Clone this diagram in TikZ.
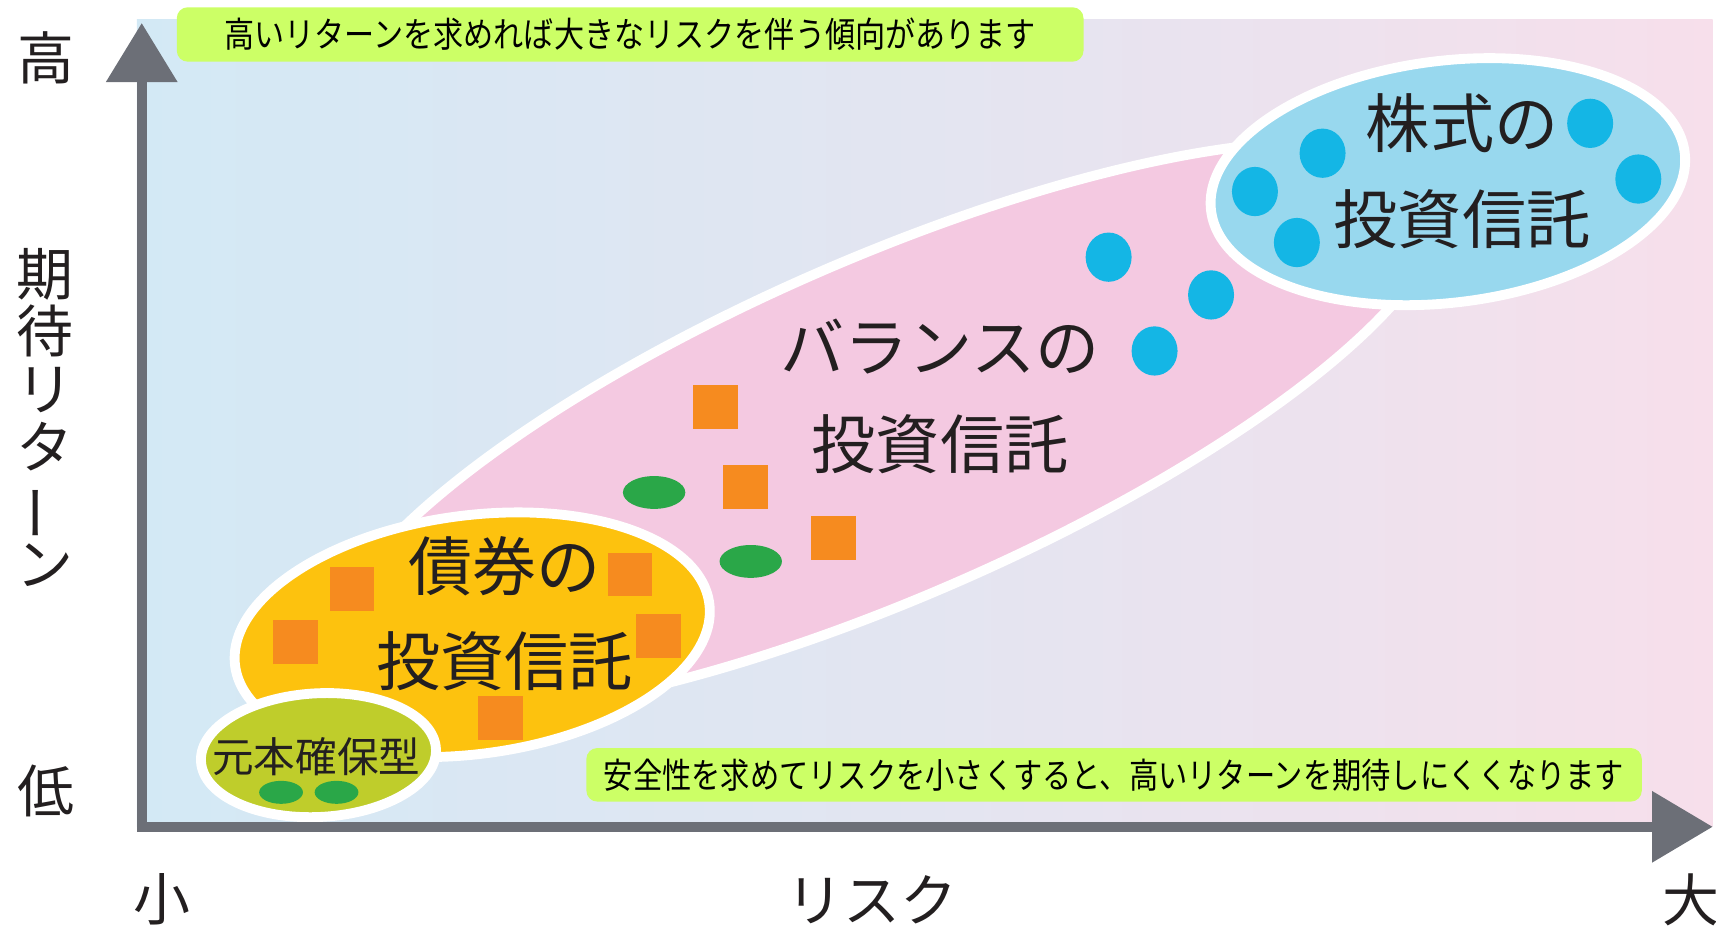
\documentclass[tikz,border=0pt]{standalone}
\usepackage{fontspec}
\setmainfont{Noto Sans CJK JP}
\newfontfamily\jpc[FakeStretch=0.86]{Noto Sans CJK JP}
\newfontfamily\jpd[FakeStretch=0.835]{Noto Sans CJK JP}
\usetikzlibrary{arrows.meta}
\definecolor{bgL}{HTML}{D3E9F5}
\definecolor{bgM}{HTML}{E3E5F1}
\definecolor{bgR}{HTML}{F7DFEB}
\definecolor{pinkF}{HTML}{F4C9E1}
\definecolor{blueF}{HTML}{98D8EE}
\definecolor{blueD}{HTML}{14B6E5}
\definecolor{yelF}{HTML}{FDC20E}
\definecolor{limeF}{HTML}{BFCD2B}
\definecolor{orgS}{HTML}{F68B1F}
\definecolor{grnD}{HTML}{2AA748}
\definecolor{boxG}{HTML}{CCFF66}
\definecolor{axisG}{HTML}{6C6F77}
\definecolor{txt}{HTML}{231F20}
\begin{document}
\begin{tikzpicture}[x=0.5pt,y=-0.5pt,
  zone/.style={draw=white, line width=4.5pt},
  bigtxt/.style={text=txt, align=center, inner sep=0pt, font=\fontsize{29.3}{43.5}\selectfont},
  axlab/.style={text=txt, inner sep=0pt, font=\fontsize{26}{26.3}\selectfont},
  notebox/.style={fill=boxG, rounded corners=5pt, inner sep=0pt, text=black, font=\jpc\fontsize{16}{18}\selectfont},
  axisline/.style={draw=axisG, line width=4.75pt, line join=miter,
     {Triangle[length=27pt,width=31.5pt]}-{Triangle[length=27.75pt,width=31.5pt]}}
]
\useasboundingbox (0,0) rectangle (1568,849);
% background
\fill[left color=bgL, right color=bgR, middle color=bgM] (125,18) rectangle (1565,755);
% balance zone (pink)
\draw[zone, fill=pinkF, rotate around={23.5:(810,391)}] (810,391) ellipse [x radius=550, y radius=155];
% stock zone (blue)
\draw[zone, fill=blueF, rotate around={7:(1323,166)}] (1323,166) ellipse [x radius=218, y radius=110.5];
% bond zone (yellow)
\draw[zone, fill=yelF, rotate around={7.5:(431.5,580)}] (431.5,580) ellipse [x radius=218.5, y radius=109];
% principal-guaranteed zone (lime)
\draw[zone, fill=limeF, rotate around={3:(291,690)}] (291,690) ellipse [x radius=107.5, y radius=56.5];
% blue dots
\foreach \x/\y in {1453/112.7, 1497/163.6, 1208.5/140, 1146.7/175, 1185/221.6, 1013/235, 1106.6/269.5, 1055/320.7}
  \fill[blueD] (\x,\y) ellipse [x radius=21, y radius=22.5];
% orange squares
\foreach \x/\y in {653.4/372, 681/445, 762/491.5, 321.6/538, 269.8/586.5, 575.7/525, 601.7/581, 457.4/656.3}
  \fill[orgS] (\x-20.5,\y-20) rectangle (\x+20.5,\y+20);
% green ovals
\foreach \x/\y in {597.7/450, 686/513}
  \fill[grnD] (\x,\y) ellipse [x radius=28.5, y radius=15];
\foreach \x/\y in {256.8/724, 307.5/724}
  \fill[grnD] (\x,\y) ellipse [x radius=20, y radius=10.5];
% zone labels
\node[bigtxt] (kabu) at (1336,156.5) {株式の\\投資信託};
\node[bigtxt, font=\fontsize{29.3}{44.5}\selectfont] (bal) at (859,362) {バランスの\\投資信託};
\node[bigtxt] (sai) at (461,561) {債券の\\投資信託};
\node[text=txt, inner sep=0pt, font=\fontsize{19}{20}\selectfont] (gan) at (289,691) {元本確保型};
% note boxes
\node[notebox, minimum width=414.25pt, minimum height=24.85pt] (top) at (575.8,31.5) {高いリターンを求めれば大きなリスクを伴う傾向があります};
\node[notebox, font=\jpd\fontsize{16}{18}\selectfont, minimum width=482.2pt, minimum height=24.45pt] (bot) at (1018,708) {安全性を求めてリスクを小さくすると、高いリターンを期待しにくくなります};
% axes
\coordinate (ytip) at (129.5,21);
\coordinate (orig) at (129.5,755.5);
\coordinate (xtip) at (1565,755.5);
\draw[axisline] (ytip) -- (orig) -- (xtip);
% axis labels
\node[axlab] (hi) at (42,53) {高};
\node[axlab, align=center] (ret) at (41.5,381.5) {期\\待\\リ\\タ\\\rotatebox[origin=c]{90}{ー}\\ン};
\node[axlab] (lo) at (42,723) {低};
\node[axlab] (sm) at (148,822) {小};
\node[axlab] (risk) at (797,822) {リスク};
\node[axlab] (lg) at (1545,822) {大};
\end{tikzpicture}
\end{document}
